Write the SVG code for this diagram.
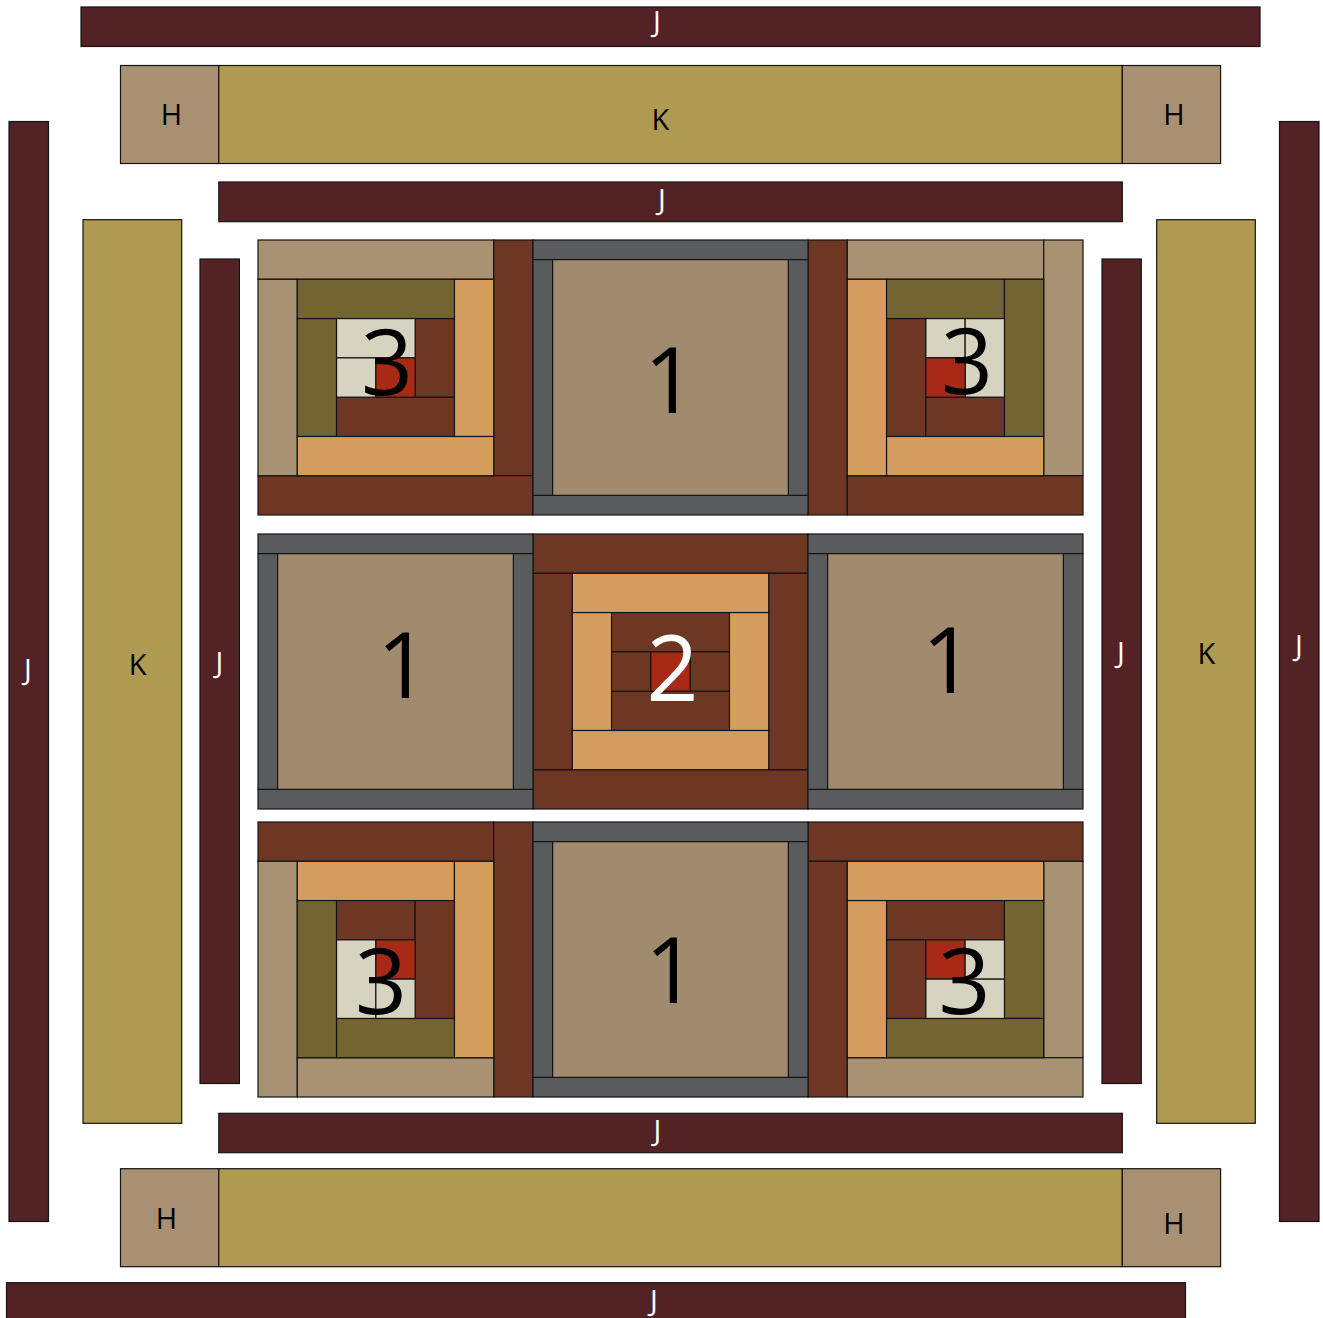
<svg xmlns="http://www.w3.org/2000/svg" width="1323" height="1318" viewBox="0 0 1323 1318">
<style>
rect{stroke:#141414;stroke-width:1.2}
.j{fill:#532224}.k{fill:#B09A52}.h{fill:#A99072}
.br{fill:#6E3723}.or{fill:#D49D5D}.ol{fill:#736432}.cr{fill:#D6D3C0}.rd{fill:#A82916}
.gy{fill:#5A5B5D}.ct{fill:#A08B6F}.tn{fill:#A99273}
text{font-family:"Open Sans","Noto Sans","DejaVu Sans",sans-serif;text-anchor:middle}
.lb{font-size:29px;fill:#000}
.lw{font-size:29px;fill:#fff}
.dg{font-size:91px;fill:#000}
.dw{font-size:91px;fill:#fff}
</style>
<rect width="1323" height="1318" fill="#fff" style="stroke:none"/>
<g id="border-outer">
<g id="j-top"><rect class="j" x="81" y="7" width="1179" height="39.5"/><text class="lw" x="657" y="32">J</text></g>
<g id="j-bottom"><rect class="j" x="6.5" y="1282.7" width="1179" height="40"/><text class="lw" x="654" y="1311">J</text></g>
<g id="j-left"><rect class="j" x="9" y="121.5" width="39.5" height="1100"/><text class="lw" x="28" y="680">J</text></g>
<g id="j-right"><rect class="j" x="1279.5" y="121.5" width="39.5" height="1100"/><text class="lw" x="1299" y="656">J</text></g>
</g>
<g id="border-hk">
<g id="h-top-left"><rect class="h" x="120.5" y="65.5" width="98.3" height="98"/><text class="lb" x="171.5" y="125">H</text></g>
<g id="k-top"><rect class="k" x="218.8" y="65.5" width="903.5" height="98"/><text class="lb" x="660.5" y="130">K</text></g>
<g id="h-top-right"><rect class="h" x="1122.3" y="65.5" width="98.3" height="98"/><text class="lb" x="1174" y="125">H</text></g>
<g id="h-bottom-left"><rect class="h" x="120.5" y="1168.7" width="98.3" height="98"/><text class="lb" x="166.5" y="1229">H</text></g>
<g id="k-bottom"><rect class="k" x="218.8" y="1168.7" width="903.5" height="98"/></g>
<g id="h-bottom-right"><rect class="h" x="1122.3" y="1168.7" width="98.3" height="98"/><text class="lb" x="1174" y="1234">H</text></g>
<g id="k-left"><rect class="k" x="83" y="219.7" width="98.7" height="903.6"/><text class="lb" x="137.7" y="675">K</text></g>
<g id="k-right"><rect class="k" x="1156.7" y="219.7" width="98.6" height="903.6"/><text class="lb" x="1206.5" y="664">K</text></g>
</g>
<g id="border-inner">
<g id="j-inner-top"><rect class="j" x="218.8" y="182" width="903.5" height="39.7"/><text class="lw" x="662" y="210">J</text></g>
<g id="j-inner-bottom"><rect class="j" x="218.8" y="1113.3" width="903.5" height="39.4"/><text class="lw" x="657.5" y="1141">J</text></g>
<g id="j-inner-left"><rect class="j" x="200" y="259" width="39.4" height="824.5"/><text class="lw" x="219.5" y="673">J</text></g>
<g id="j-inner-right"><rect class="j" x="1102" y="259" width="39.3" height="824.5"/><text class="lw" x="1121" y="663">J</text></g>
</g>
<g id="block-3-tl" transform="translate(258,240)">
<rect class="tn" x="0" y="0" width="235.71" height="39.29"/>
<rect class="br" x="235.71" y="0" width="39.29" height="235.71"/>
<rect class="br" x="0" y="235.71" width="275" height="39.29"/>
<rect class="tn" x="0" y="39.29" width="39.29" height="196.43"/>
<rect class="or" x="39.29" y="196.43" width="196.43" height="39.29"/>
<rect class="or" x="196.43" y="39.29" width="39.29" height="157.14"/>
<rect class="ol" x="39.29" y="39.29" width="157.14" height="39.29"/>
<rect class="ol" x="39.29" y="78.57" width="39.29" height="117.86"/>
<rect class="br" x="78.57" y="157.14" width="117.86" height="39.29"/>
<rect class="br" x="157.14" y="78.57" width="39.29" height="78.57"/>
<rect class="cr" x="78.57" y="78.57" width="78.57" height="39.29"/>
<rect class="cr" x="78.57" y="117.86" width="39.29" height="39.29"/>
<rect class="rd" x="117.86" y="117.86" width="39.29" height="39.29"/>
<text class="dg" x="129" y="155">3</text>
</g>
<g id="block-3-tr" transform="translate(808,240)">
<rect class="br" x="0" y="0" width="39.29" height="275"/>
<rect class="tn" x="39.29" y="0" width="196.43" height="39.29"/>
<rect class="tn" x="235.71" y="0" width="39.29" height="235.71"/>
<rect class="br" x="39.29" y="235.71" width="235.71" height="39.29"/>
<rect class="or" x="39.29" y="39.29" width="39.29" height="196.43"/>
<rect class="or" x="78.57" y="196.43" width="157.14" height="39.29"/>
<rect class="ol" x="78.57" y="39.29" width="117.86" height="39.29"/>
<rect class="ol" x="196.43" y="39.29" width="39.29" height="157.14"/>
<rect class="br" x="78.57" y="78.57" width="39.29" height="117.86"/>
<rect class="br" x="117.86" y="157.14" width="78.57" height="39.29"/>
<rect class="cr" x="117.86" y="78.57" width="39.29" height="39.29"/>
<rect class="cr" x="157.14" y="78.57" width="39.29" height="78.57"/>
<rect class="rd" x="117.86" y="117.86" width="39.29" height="39.29"/>
<text class="dg" x="159" y="154">3</text>
</g>
<g id="block-3-bl" transform="translate(258,822)">
<rect class="br" x="0" y="0" width="235.71" height="39.29"/>
<rect class="br" x="235.71" y="0" width="39.29" height="275"/>
<rect class="tn" x="0" y="39.29" width="39.29" height="235.71"/>
<rect class="tn" x="39.29" y="235.71" width="196.43" height="39.29"/>
<rect class="or" x="39.29" y="39.29" width="157.14" height="39.29"/>
<rect class="or" x="196.43" y="39.29" width="39.29" height="196.43"/>
<rect class="ol" x="39.29" y="78.57" width="39.29" height="157.14"/>
<rect class="ol" x="78.57" y="196.43" width="117.86" height="39.29"/>
<rect class="br" x="78.57" y="78.57" width="78.57" height="39.29"/>
<rect class="br" x="157.14" y="78.57" width="39.29" height="117.86"/>
<rect class="cr" x="78.57" y="117.86" width="39.29" height="78.57"/>
<rect class="rd" x="117.86" y="117.86" width="39.29" height="39.29"/>
<rect class="cr" x="117.86" y="157.14" width="39.29" height="39.29"/>
<text class="dg" x="123" y="192">3</text>
</g>
<g id="block-3-br" transform="translate(808,822)">
<rect class="br" x="0" y="0" width="275" height="39.29"/>
<rect class="br" x="0" y="39.29" width="39.29" height="235.71"/>
<rect class="tn" x="235.71" y="39.29" width="39.29" height="196.43"/>
<rect class="tn" x="39.29" y="235.71" width="235.71" height="39.29"/>
<rect class="or" x="39.29" y="39.29" width="196.43" height="39.29"/>
<rect class="or" x="39.29" y="78.57" width="39.29" height="157.14"/>
<rect class="br" x="78.57" y="78.57" width="117.86" height="39.29"/>
<rect class="ol" x="196.43" y="78.57" width="39.29" height="117.86"/>
<rect class="ol" x="78.57" y="196.43" width="157.14" height="39.29"/>
<rect class="br" x="78.57" y="117.86" width="39.29" height="78.57"/>
<rect class="rd" x="117.86" y="117.86" width="39.29" height="39.29"/>
<rect class="cr" x="157.14" y="117.86" width="39.29" height="39.29"/>
<rect class="cr" x="117.86" y="157.14" width="78.57" height="39.29"/>
<text class="dg" x="156.5" y="192">3</text>
</g>
<g id="block-2-center" transform="translate(533,534)">
<rect class="br" x="0" y="0" width="275" height="39.29"/>
<rect class="br" x="0" y="235.71" width="275" height="39.29"/>
<rect class="br" x="0" y="39.29" width="39.29" height="196.43"/>
<rect class="br" x="235.71" y="39.29" width="39.29" height="196.43"/>
<rect class="or" x="39.29" y="39.29" width="196.43" height="39.29"/>
<rect class="or" x="39.29" y="196.43" width="196.43" height="39.29"/>
<rect class="or" x="39.29" y="78.57" width="39.29" height="117.86"/>
<rect class="or" x="196.43" y="78.57" width="39.29" height="117.86"/>
<rect class="br" x="78.57" y="78.57" width="117.86" height="39.29"/>
<rect class="br" x="78.57" y="157.14" width="117.86" height="39.29"/>
<rect class="br" x="78.57" y="117.86" width="39.29" height="39.29"/>
<rect class="br" x="157.14" y="117.86" width="39.29" height="39.29"/>
<rect class="rd" x="117.86" y="117.86" width="39.29" height="39.29"/>
<text class="dw" x="139.5" y="167">2</text>
</g>
<g id="block-1-top" transform="translate(533,240)">
<rect class="gy" x="0" y="0" width="275" height="19.64"/>
<rect class="gy" x="0" y="255.36" width="275" height="19.64"/>
<rect class="gy" x="0" y="19.64" width="19.64" height="235.71"/>
<rect class="gy" x="255.36" y="19.64" width="19.64" height="235.71"/>
<rect class="ct" x="19.64" y="19.64" width="235.71" height="235.71"/>
<text class="dg" x="137" y="173">1</text>
</g>
<g id="block-1-left" transform="translate(258,534)">
<rect class="gy" x="0" y="0" width="275" height="19.64"/>
<rect class="gy" x="0" y="255.36" width="275" height="19.64"/>
<rect class="gy" x="0" y="19.64" width="19.64" height="235.71"/>
<rect class="gy" x="255.36" y="19.64" width="19.64" height="235.71"/>
<rect class="ct" x="19.64" y="19.64" width="235.71" height="235.71"/>
<text class="dg" x="145" y="164">1</text>
</g>
<g id="block-1-right" transform="translate(808,534)">
<rect class="gy" x="0" y="0" width="275" height="19.64"/>
<rect class="gy" x="0" y="255.36" width="275" height="19.64"/>
<rect class="gy" x="0" y="19.64" width="19.64" height="235.71"/>
<rect class="gy" x="255.36" y="19.64" width="19.64" height="235.71"/>
<rect class="ct" x="19.64" y="19.64" width="235.71" height="235.71"/>
<text class="dg" x="140" y="159">1</text>
</g>
<g id="block-1-bottom" transform="translate(533,822)">
<rect class="gy" x="0" y="0" width="275" height="19.64"/>
<rect class="gy" x="0" y="255.36" width="275" height="19.64"/>
<rect class="gy" x="0" y="19.64" width="19.64" height="235.71"/>
<rect class="gy" x="255.36" y="19.64" width="19.64" height="235.71"/>
<rect class="ct" x="19.64" y="19.64" width="235.71" height="235.71"/>
<text class="dg" x="138" y="181">1</text>
</g>
<g id="connectors"/>
</svg>
